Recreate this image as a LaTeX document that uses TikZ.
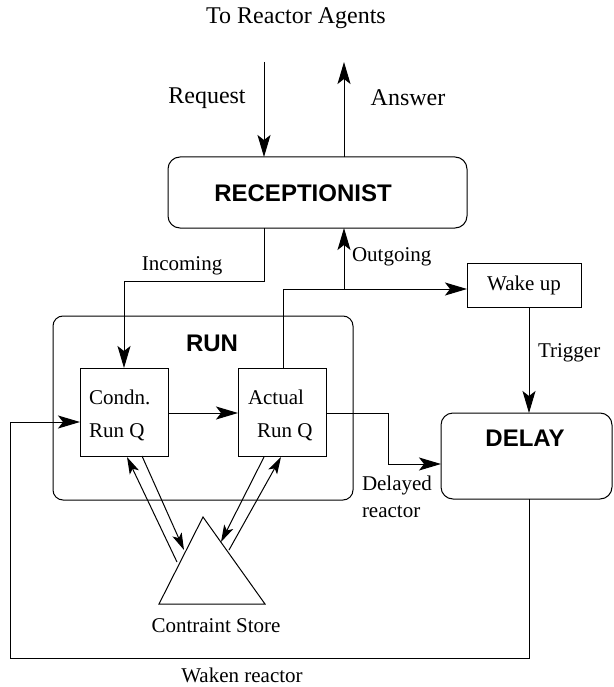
\documentclass[tikz,border=0pt]{standalone}
\usepackage{fontspec}
\setmainfont{Liberation Serif}
\newfontfamily\hvfont{Liberation Sans}
\usetikzlibrary{arrows.meta,calc}
\begin{document}
\begin{tikzpicture}[x=1pt,y=-1pt,
  line width=1pt,
  every node/.style={inner sep=0pt,outer sep=0pt},
  lbl/.style={font=\fontsize{21}{24}\selectfont},
  biglbl/.style={font=\fontsize{24}{28}\selectfont},
  boldlbl/.style={font=\hvfont\bfseries\fontsize{24}{28}\selectfont},
  rbox/.style={draw,rectangle,rounded corners=12pt},
  sbox/.style={draw,rectangle},
  arr/.style={-{Stealth[length=22pt,width=13pt,inset=5pt]}},
  sarr/.style={-{Stealth[length=17pt,width=10pt,inset=4pt]}}
]
\useasboundingbox (0,0) rectangle (613,687);

% boxes
\node[rbox,minimum width=299pt,minimum height=71pt] (rec) at (317.5,192.5) {};
\node[boldlbl] (rectxt) at (303,193) {RECEPTIONIST};
\node[rbox,rounded corners=10pt,minimum width=300pt,minimum height=184pt] (run) at (203,408) {};
\node[boldlbl] (runtxt) at (212,343) {RUN};
\node[sbox,minimum width=88pt,minimum height=88pt] (cq) at (124,412) {};
\node[lbl,anchor=west] (cq1) at (89,397) {Condn.};
\node[lbl,anchor=west] (cq2) at (89,432) {Run Q};
\node[sbox,minimum width=88pt,minimum height=88pt] (aq) at (282,412) {};
\node[lbl,anchor=west] (aq1) at (248,397) {Actual};
\node[lbl,anchor=west] (aq2) at (257,432) {Run Q};
\node[sbox,minimum width=114pt,minimum height=44pt,lbl] (wake) at (524,285) {Wake up};
\node[rbox,minimum width=171pt,minimum height=86pt] (delay) at (526.5,456) {};
\node[boldlbl] (delaytxt) at (525,438) {DELAY};

% constraint store triangle
\coordinate (tA) at (203,517);
\coordinate (tL) at (159,604);
\coordinate (tR) at (265,604);
\draw (tA) -- (tL) -- (tR) -- cycle;
\node[lbl] (cstxt) at (216,626) {Contraint Store};

% top labels
\node[biglbl] (title) at (296,18) {To Reactor Agents};
\node[biglbl] (reqtxt) at (207,98) {Request};
\node[biglbl] (anstxt) at (408,98) {Answer};
\coordinate (reqtop) at (264,62);
\coordinate (anstop) at (344,62);
\draw[arr] (reqtop) -- (reqtop |- rec.north);
\draw[arr] (anstop |- rec.north) -- (anstop);

% incoming
\coordinate (inc1) at (264,281);
\draw[arr] (inc1 |- rec.south) -- (inc1) -- (124,281) -- (cq.north);
\node[lbl] (inctxt) at (182,266) {Incoming};

% condn -> actual
\draw[arr] (cq.east |- 0,413) -- (aq.west |- 0,413);

% actual -> wake up, outgoing
\coordinate (ag) at (283,289);
\draw (ag |- aq.north) -- (ag);
\draw[arr] (ag) -- (wake.west |- ag);
\coordinate (og) at (344,289);
\draw[arr] (og) -- (og |- rec.south);
\node[lbl,anchor=west] (outtxt) at (352,257) {Outgoing};

% trigger
\draw[arr] (wake.south -| 529,0) -- (delay.north -| 529,0);
\node[lbl,anchor=west] (trigtxt) at (538,353) {Trigger};

% delayed reactor
\coordinate (d1) at (388,413);
\coordinate (d2) at (388,464);
\draw[arr] (aq.east |- d1) -- (d1) -- (d2) -- (delay.west |- d2);
\node[lbl,anchor=west] (deltxt1) at (362,485) {Delayed};
\node[lbl,anchor=west] (deltxt2) at (362,512) {reactor};

% waken reactor
\coordinate (w1) at (529,658);
\coordinate (w2) at (10,658);
\coordinate (w3) at (10,422);
\draw[arr] (delay.south -| w1) -- (w1) -- (w2) -- (w3) -- (cq.west |- w3);
\node[lbl] (waktxt) at (242,675) {Waken reactor};

% store double arrows
\coordinate (a1s) at (177,562); \coordinate (a1e) at (127,457);
\coordinate (a2s) at (142,456); \coordinate (a2e) at (184,550);
\coordinate (a3s) at (264,457); \coordinate (a3e) at (221,542);
\coordinate (a4s) at (229,550); \coordinate (a4e) at (281,457);
\draw[sarr] (a1s) -- (a1e);
\draw[sarr] (a2s) -- (a2e);
\draw[sarr] (a3s) -- (a3e);
\draw[sarr] (a4s) -- (a4e);
\end{tikzpicture}
\end{document}
